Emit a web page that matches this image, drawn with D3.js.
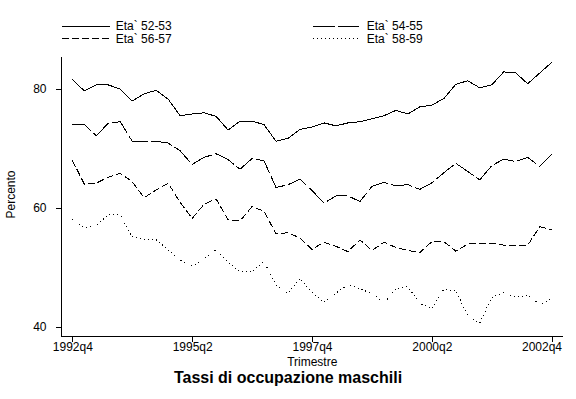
<!DOCTYPE html>
<html>
<head>
<meta charset="utf-8">
<script src="https://cdn.jsdelivr.net/npm/d3@7"></script>
<style>
  html, body { margin: 0; padding: 0; background: #fff; }
  svg { display: block; }
  text { font-family: "Liberation Sans", Arial, sans-serif; fill: #000; }
</style>
</head>
<body>
<svg id="chart" width="576" height="399"></svg>
<script>
// ---- data ----
const quarters = ["1992q4","1993q1","1993q2","1993q3","1993q4","1994q1","1994q2","1994q3","1994q4",
  "1995q1","1995q2","1995q3","1995q4","1996q1","1996q2","1996q3","1996q4","1997q1","1997q2","1997q3",
  "1997q4","1998q1","1998q2","1998q3","1998q4","1999q1","1999q2","1999q3","1999q4","2000q1","2000q2",
  "2000q3","2000q4","2001q1","2001q2","2001q3","2001q4","2002q1","2002q2","2002q3","2002q4"];
const eta5253 = [81.6,79.7,80.7,80.7,80.0,78.0,79.2,79.8,78.3,75.5,75.8,76.0,75.4,73.1,74.6,74.6,74.0,71.2,71.7,73.2,
  73.6,74.3,73.8,74.3,74.5,75.0,75.5,76.4,75.8,77.0,77.3,78.4,80.8,81.4,80.2,80.7,82.9,82.7,80.9,82.7,84.5];
const eta5455 = [74.1,74.1,72.1,74.25,74.5,71.2,71.2,71.2,70.9,69.6,67.3,68.5,69.1,68.1,66.5,68.3,67.9,63.4,63.9,64.8,
  62.9,60.8,62.0,62.0,61.05,63.6,64.3,63.7,63.9,63.1,64.2,65.9,67.5,66.1,64.7,67.1,68.2,67.8,68.5,66.95,69.0];
const eta5657 = [68.0,64.0,64.15,65.15,65.8,64.4,61.7,63.0,64.15,60.9,58.2,60.6,61.5,58.0,57.8,60.2,59.4,55.6,55.8,54.9,
  53.0,54.2,53.5,52.6,54.6,52.8,54.2,53.3,52.8,52.45,54.3,54.3,52.7,53.9,54.0,54.0,53.7,53.7,53.7,56.8,56.3];
const eta5859 = [58.0,56.6,57.0,58.8,58.8,55.1,54.6,54.6,52.9,51.2,50.2,51.4,52.9,50.8,49.2,49.2,50.9,47.0,45.6,48.1,
  45.7,44.1,45.6,47.1,46.3,45.6,43.9,46.3,46.7,43.9,43.0,46.3,46.0,41.8,40.6,44.9,45.7,44.9,45.3,43.7,44.75];
const seriesNames = ["Eta` 52-53", "Eta` 54-55", "Eta` 56-57", "Eta` 58-59"];
const xTickLabels = ["1992q4","1995q2","1997q4","2000q2","2002q4"];
const yTicks = [40, 60, 80];

// ---- layout ----
const svg = d3.select("#chart");
const plotLeft = 61.5, plotRight = 563, plotTop = 57, plotBottom = 336;

const x = d3.scaleLinear().domain([0, quarters.length - 1]).range([72.3, 551.7]);
const y = d3.scaleLinear().domain([38.4, 85.4]).range([plotBottom, plotTop]);

const styles = [
  { dash: null },
  { dash: "22,3" },
  { dash: "7,3" },
  { dash: "1,3" }
];
const allSeries = [eta5253, eta5455, eta5657, eta5859];

// axes
const yAxis = d3.axisLeft(y).tickValues(yTicks).tickSize(6).tickPadding(9).tickFormat(d3.format("d"));
const gy = svg.append("g").attr("transform", `translate(${plotLeft},0)`).call(yAxis);
gy.select(".domain").remove();
gy.selectAll("text").style("font-size", "12px");
gy.selectAll("line").attr("shape-rendering", "crispEdges");

const tickIdx = xTickLabels.map(l => quarters.indexOf(l));
const xAxis = d3.axisBottom(x).tickValues(tickIdx).tickSize(6).tickPadding(0.5)
  .tickFormat(d => quarters[d]);
const gx = svg.append("g").attr("transform", `translate(0,${plotBottom})`).call(xAxis);
gx.select(".domain").remove();
gx.selectAll("text").style("font-size", "12px");
gx.selectAll("line").attr("shape-rendering", "crispEdges");
// keep last label inside axis extent
gx.selectAll(".tick").filter((d, i, n) => i === n.length - 1).select("text")
  .attr("text-anchor", "end")
  .attr("x", function(d) { return plotRight - 1.5 - x(d); });

svg.append("line").attr("x1", plotLeft).attr("x2", plotLeft).attr("y1", plotTop).attr("y2", plotBottom + 0.5)
  .attr("stroke", "#000").attr("shape-rendering", "crispEdges");
svg.append("line").attr("x1", plotLeft).attr("x2", plotRight).attr("y1", plotBottom).attr("y2", plotBottom)
  .attr("stroke", "#000").attr("shape-rendering", "crispEdges");

// lines
const line = d3.line().x((d, i) => x(i)).y(d => y(d));
allSeries.forEach((s, k) => {
  svg.append("path").datum(s)
    .attr("d", line)
    .attr("fill", "none")
    .attr("stroke", "#000")
    .attr("stroke-width", 1)
    .attr("stroke-dasharray", styles[k].dash)
    .attr("shape-rendering", "crispEdges");
});

// axis titles
svg.append("text").attr("x", (plotLeft + plotRight) / 2).attr("y", 366)
  .attr("text-anchor", "middle").style("font-size", "12px").text("Trimestre");
svg.append("text").attr("transform", `translate(15,${(plotTop + plotBottom) / 2 - 2}) rotate(-90)`)
  .attr("text-anchor", "middle").style("font-size", "12px").text("Percento");
svg.append("text").attr("x", 288).attr("y", 383)
  .attr("text-anchor", "middle").style("font-size", "16px").style("font-weight", "bold")
  .text("Tassi di occupazione maschili");

// legend
const legendPos = [
  { x1: 61.7, x2: 110, tx: 115.7, ly: 26, ty: 30 },
  { x1: 312.5, x2: 358.5, tx: 366.7, ly: 26, ty: 30 },
  { x1: 61.7, x2: 110, tx: 115.7, ly: 38.5, ty: 42.5 },
  { x1: 312.5, x2: 358.5, tx: 366.7, ly: 38.5, ty: 42.5 }
];
seriesNames.forEach((name, k) => {
  const p = legendPos[k];
  svg.append("line").attr("x1", p.x1).attr("x2", p.x2).attr("y1", p.ly).attr("y2", p.ly)
    .attr("stroke", "#000").attr("stroke-width", 1).attr("stroke-dasharray", styles[k].dash)
    .attr("shape-rendering", "crispEdges");
  svg.append("text").attr("x", p.tx).attr("y", p.ty).style("font-size", "12px").text(name);
});
</script>
</body>
</html>
